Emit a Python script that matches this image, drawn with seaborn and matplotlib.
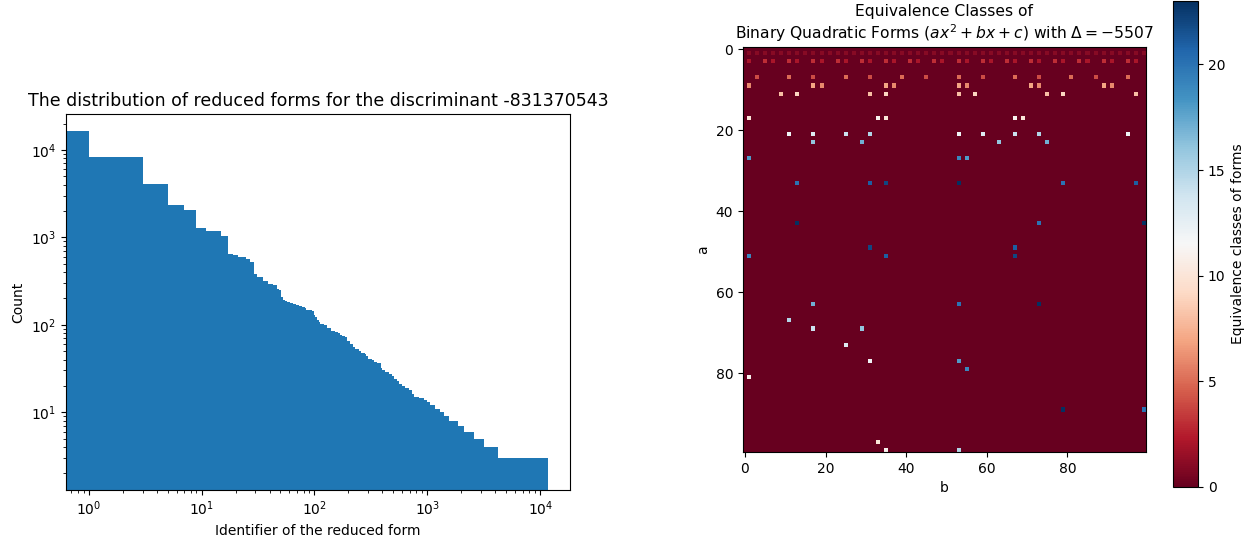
import numpy as np
import matplotlib
matplotlib.use("Agg")
import matplotlib.pyplot as plt
import seaborn as sns

# --- left panel: counts per reduced-form identifier (bin edges + heights)
BIN_EDGES = [
    0.5, 1, 3, 5, 7, 9, 11, 15, 17, 19,
    21, 25, 27, 29, 31, 35, 39, 43, 47, 49,
    51, 53, 55, 57, 61, 65, 69, 73, 77, 83,
    85, 95, 99, 101, 105, 109, 113, 121, 129, 141,
    153, 161, 167, 175, 185, 195, 205, 219, 231, 247,
    261, 279, 289, 299, 323, 339, 359, 387, 397, 425,
    455, 487, 503, 539, 565, 597, 639, 683, 731, 767,
    839, 929, 993, 1063, 1177, 1287, 1395, 1567, 1857, 2099,
    2573, 3155, 4199, 11717,
]
COUNTS = [
    16500, 8310, 4080, 2350, 2060, 1281, 1184, 1038, 646, 624,
    597, 566, 520, 385, 352, 317, 293, 283, 255, 248,
    208, 194, 189, 184, 179, 175, 168, 164, 160, 156,
    148, 145, 129, 122, 112, 107, 103, 99, 93, 85,
    83, 81, 77, 75, 72, 65, 60, 55, 53, 50,
    48, 46, 44, 41, 40, 38, 37, 32, 30, 29,
    27, 26, 24, 23, 21, 20, 19, 18, 16, 15,
    14.4, 13.8, 13, 12, 11, 10, 9, 8, 7, 6,
    5, 4, 3,
]

# --- right panel: non-zero cells (a = row, b = column, class id)
FORM_A = (
    [1, 1, 1, 1, 1, 1, 1, 1, 1, 1, 1, 1, 1, 1, 1, 1, 1, 1, 1, 1, 1, 1, 1, 1, 1,
     1, 1, 1, 1, 1, 1, 1, 1, 1, 1, 1, 1, 1, 1, 1, 1, 1, 1, 1, 1, 1, 1, 1, 1, 1]
    + [3, 3, 3, 3, 3, 3, 3, 3, 3, 3, 3, 3, 3, 3, 3, 3, 3, 3, 3, 3, 3, 3, 3, 3, 3, 3, 3, 3,
       3, 3, 3, 3, 3]
    + [7, 7, 7, 7, 7, 7, 7, 7, 7, 7, 7, 7, 7, 7]
    + [9, 9, 9, 9, 9, 9, 9, 9, 9, 9, 9]
    + [11, 11, 11, 11, 11, 11, 11, 11, 11]
    + [17, 17, 17, 17, 17]
    + [21, 21, 21, 21, 21, 21, 21, 21, 21]
    + [23, 23, 23, 23]
    + [27, 27, 27]
    + [33, 33, 33, 33, 33, 33]
    + [43, 43, 43, 49, 49, 51, 51, 51, 63, 63, 63, 67, 69, 69, 73, 77, 77, 79, 81,
       89, 89, 97, 99, 99]
)
FORM_B = (
    [1, 3, 5, 7, 9, 11, 13, 15, 17, 19, 21, 23, 25, 27, 29, 31, 33, 35, 37, 39, 41, 43,
     45, 47, 49, 51, 53, 55, 57, 59, 61, 63, 65, 67, 69, 71, 73, 75, 77, 79, 81, 83, 85,
     87, 89, 91, 93, 95, 97, 99]
    + [1, 5, 7, 11, 13, 17, 19, 23, 25, 29, 31, 35, 37, 41, 43, 47, 49, 53, 55, 59, 61,
       65, 67, 71, 73, 77, 79, 83, 85, 89, 91, 95, 97]
    + [3, 11, 17, 25, 31, 39, 45, 53, 59, 67, 73, 81, 87, 95]
    + [1, 17, 19, 35, 37, 53, 55, 71, 73, 89, 91]
    + [9, 13, 31, 35, 53, 57, 75, 79, 97]
    + [1, 33, 35, 67, 69]
    + [11, 17, 25, 31, 53, 59, 67, 73, 95]
    + [17, 29, 63, 75]
    + [1, 53, 55]
    + [13, 31, 35, 53, 79, 97]
    + [13, 73, 99, 31, 67, 1, 35, 67, 17, 53, 73, 11, 17, 29, 25, 31, 53, 55, 1,
       79, 99, 33, 35, 53]
)
CLASS_ID = (
    [1, 1, 1, 1, 1, 1, 1, 1, 1, 1, 1, 1, 1, 1, 1, 1, 1, 1, 1, 1, 1, 1, 1, 1, 1,
     1, 1, 1, 1, 1, 1, 1, 1, 1, 1, 1, 1, 1, 1, 1, 1, 1, 1, 1, 1, 1, 1, 1, 1, 1]
    + [2, 3, 2, 3, 2, 3, 2, 3, 2, 3, 2, 3, 2, 3, 2, 3, 2, 3, 2, 3, 2, 3, 2, 3, 2, 3, 2,
       3, 2, 3, 2, 3, 2]
    + [4, 5, 4, 5, 4, 5, 4, 5, 4, 5, 4, 5, 4, 5]
    + [6, 7, 6, 7, 6, 7, 6, 7, 6, 7, 6]
    + [8, 9, 8, 9, 8, 9, 8, 9, 8]
    + [10, 11, 10, 11, 10]
    + [12, 13, 14, 15, 12, 13, 14, 15, 12]
    + [16, 17, 16, 17]
    + [18, 19, 18]
    + [20, 21, 22, 23, 20, 21]
    + [23, 20, 23, 22, 21, 19, 21, 22, 17, 20, 23, 15, 14, 16, 13, 12, 18, 19, 11,
       23, 20, 10, 11, 15]
)

AXIS_TICKS = [0, 20, 40, 60, 80]
CBAR_TICKS = [0, 5, 10, 15, 20]


def draw_distribution(ax):
    sns.histplot(x=BIN_EDGES[:-1], weights=COUNTS, bins=BIN_EDGES, ax=ax,
                 element="step", fill=True, color="#1f77b4", alpha=1, linewidth=0)
    ax.set_xscale("log")
    ax.set_yscale("log")
    ax.set_xlim(0.63, 18400)
    ax.set_ylim(1.29, 25700)
    ax.set_xlabel("Identifier of the reduced form")
    ax.set_ylabel("Count")
    ax.set_title("The distribution of reduced forms for the discriminant -831370543",
                 fontsize=12.5)


def draw_classes(ax, cax):
    grid = np.zeros((100, 100))
    grid[FORM_A, FORM_B] = CLASS_ID
    sns.heatmap(grid, cmap="RdBu", vmin=0, vmax=23, ax=ax, cbar_ax=cax,
                xticklabels=False, yticklabels=False,
                cbar_kws={"label": "Equivalence classes of forms"})
    ax.set_xticks(np.array(AXIS_TICKS) + 0.5, [str(t) for t in AXIS_TICKS], rotation=0)
    ax.set_yticks(np.array(AXIS_TICKS) + 0.5, [str(t) for t in AXIS_TICKS], rotation=0)
    ax.tick_params(length=3.5, width=0.8, bottom=True, left=True, labelsize=10)
    for s in ax.spines.values():
        s.set_visible(True)
        s.set_linewidth(0.8)
        s.set_color("black")
    ax.set_xlabel("b")
    ax.set_ylabel("a")
    ax.set_title("Equivalence Classes of\n"
                 "Binary Quadratic Forms $(ax^2 + bx + c)$ with $\\Delta = -5507$",
                 fontsize=11.2)
    cbar = ax.collections[0].colorbar
    cbar.outline.set_visible(True)
    cbar.outline.set_linewidth(0.8)
    cbar.set_ticks(CBAR_TICKS)
    cax.tick_params(length=3.5, width=0.8, labelsize=10)


fig = plt.figure(figsize=(12.51, 5.39), dpi=100)
ax_hist = fig.add_axes([0.0528, 0.0909, 0.4029, 0.6976])
ax_hm = fig.add_axes([0.5939, 0.1614, 0.3221, 0.7514])
ax_cb = fig.add_axes([0.9376, 0.0965, 0.0200, 0.9017])

draw_distribution(ax_hist)
draw_classes(ax_hm, ax_cb)

fig.savefig("out.png", dpi=100)
